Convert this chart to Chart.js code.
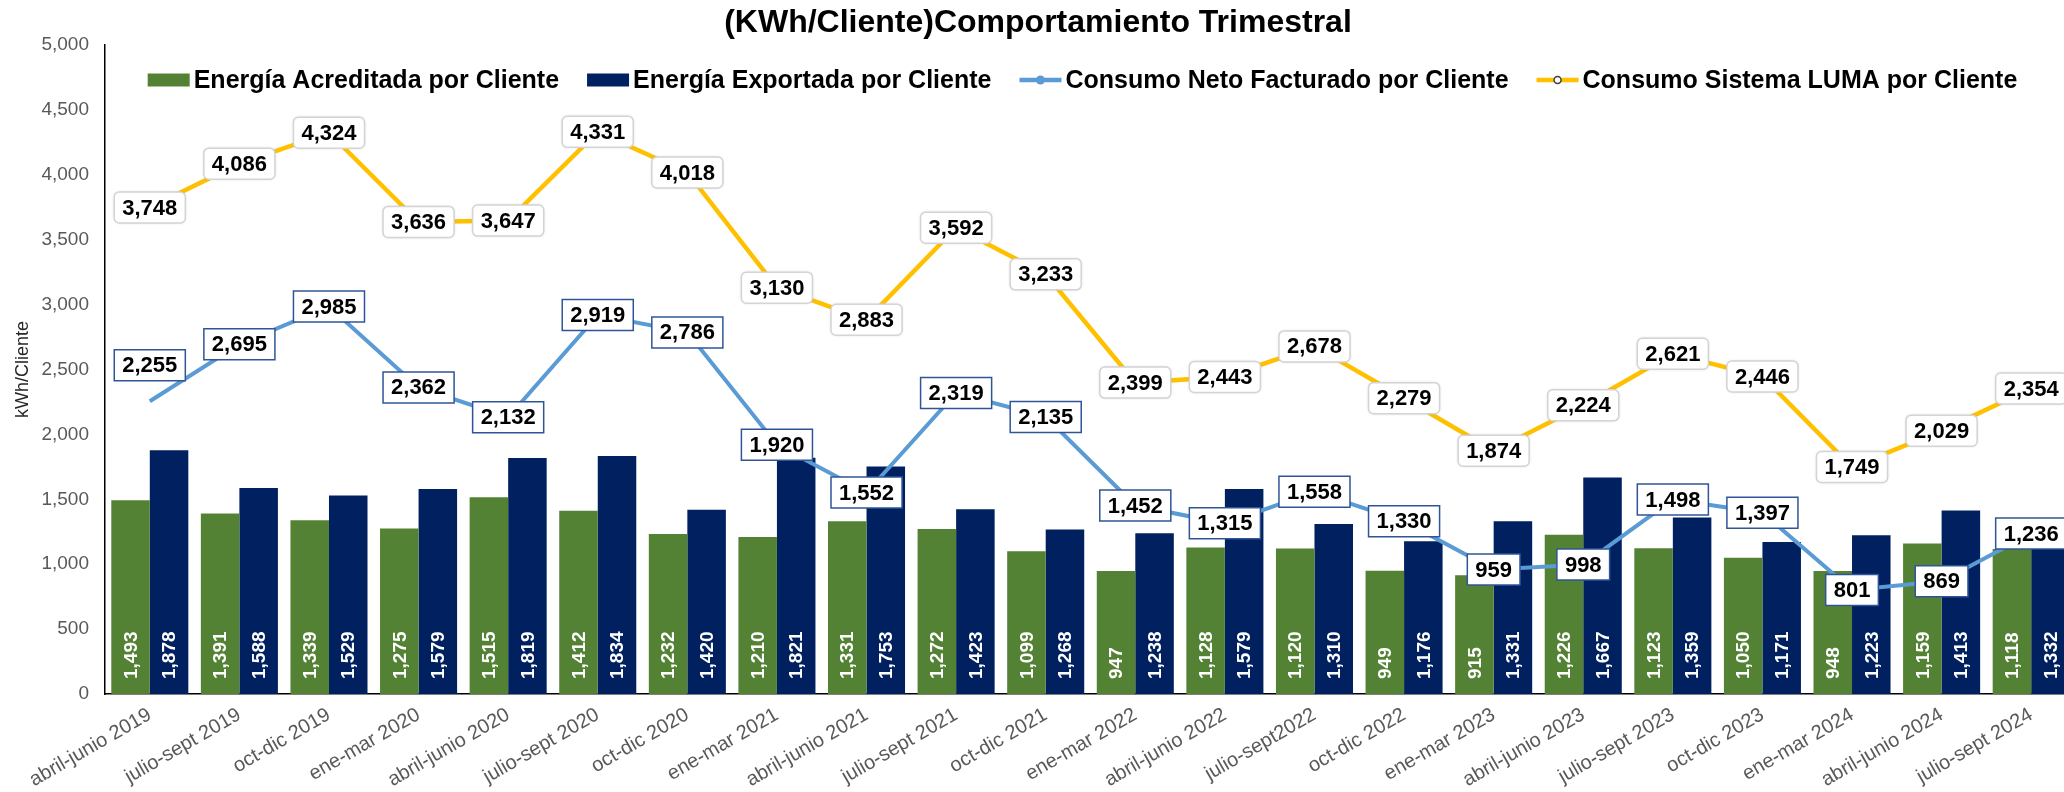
<!DOCTYPE html>
<html lang="es">
<head>
<meta charset="utf-8">
<title>(KWh/Cliente)Comportamiento Trimestral</title>
<script src="https://cdn.jsdelivr.net/npm/chart.js@4.4.1/dist/chart.umd.min.js"></script>
<style>
    html, body { margin: 0; padding: 0; background: #ffffff; overflow: hidden; }
    #wrap { width: 2076px; height: 792px; }
</style>
</head>
<body>
<div id="wrap"><canvas id="trimestralChart" width="2076" height="792"></canvas></div>
<script>
// Trimestres (eje X)
const trimestres = [
    'abril-junio 2019', 'julio-sept 2019', 'oct-dic 2019', 'ene-mar 2020',
    'abril-junio 2020', 'julio-sept 2020', 'oct-dic 2020', 'ene-mar 2021',
    'abril-junio 2021', 'julio-sept 2021', 'oct-dic 2021', 'ene-mar 2022',
    'abril-junio 2022', 'julio-sept2022', 'oct-dic 2022', 'ene-mar 2023',
    'abril-junio 2023', 'julio-sept 2023', 'oct-dic 2023', 'ene-mar 2024',
    'abril-junio 2024', 'julio-sept 2024'
];

// Series (kWh por cliente)
const energiaAcreditada = [1493, 1391, 1339, 1275, 1515, 1412, 1232, 1210, 1331, 1272, 1099,
                           947, 1128, 1120, 949, 915, 1226, 1123, 1050, 948, 1159, 1118];
const energiaExportada = [1878, 1588, 1529, 1579, 1819, 1834, 1420, 1821, 1753, 1423, 1268,
                          1238, 1579, 1310, 1176, 1331, 1667, 1359, 1171, 1223, 1413, 1332];
const consumoNeto = [2255, 2695, 2985, 2362, 2132, 2919, 2786, 1920, 1552, 2319, 2135,
                     1452, 1315, 1558, 1330, 959, 998, 1498, 1397, 801, 869, 1236];
const consumoLuma = [3748, 4086, 4324, 3636, 3647, 4331, 4018, 3130, 2883, 3592, 3233,
                     2399, 2443, 2678, 2279, 1874, 2224, 2621, 2446, 1749, 2029, 2354];

// Eje Y
const yMin = 0;
const yMax = 5000;
const yPaso = 500;

const FAMILIA = "'Liberation Sans', Arial, sans-serif";
const fmt = v => v.toLocaleString('en-US');

// Etiqueta de 2,255 movida hacia arriba como en el original
const desplazarEtiquetaNeto = { 0: -36 };

// Etiquetas de valores (barras y líneas)
const etiquetasPlugin = {
    id: 'etiquetasValores',
    afterDatasetsDraw(chart) {
        const ctx = chart.ctx;
        chart.data.datasets.forEach((ds, i) => {
            const meta = chart.getDatasetMeta(i);
            meta.data.forEach((el, j) => {
                const texto = fmt(ds.data[j]);
                ctx.save();
                if (ds.type === 'bar') {
                    // texto blanco vertical dentro de la base
                    ctx.translate(el.x, el.base - 15);
                    ctx.rotate(-Math.PI / 2);
                    ctx.font = 'bold 19px ' + FAMILIA;
                    ctx.fillStyle = '#ffffff';
                    ctx.textAlign = 'left';
                    ctx.textBaseline = 'middle';
                    ctx.fillText(texto, 0, 1);
                } else {
                    ctx.font = 'bold 22px ' + FAMILIA;
                    const w = ctx.measureText(texto).width + 16;
                    const h = 31;
                    let y = el.y;
                    if (ds.estiloEtiqueta === 'cuadro' && desplazarEtiquetaNeto[j]) {
                        y += desplazarEtiquetaNeto[j];
                    }
                    const x0 = el.x - w / 2;
                    const y0 = y - h / 2;
                    ctx.beginPath();
                    if (ds.estiloEtiqueta === 'cuadro') {
                        ctx.rect(x0, y0, w, h);
                        ctx.fillStyle = '#ffffff';
                        ctx.fill();
                        ctx.lineWidth = 1.5;
                        ctx.strokeStyle = '#2F5597';
                        ctx.stroke();
                    } else {
                        ctx.roundRect(x0, y0, w, h, 5);
                        ctx.shadowColor = 'rgba(0,0,0,0.18)';
                        ctx.shadowBlur = 3;
                        ctx.fillStyle = '#ffffff';
                        ctx.fill();
                        ctx.shadowColor = 'transparent';
                        ctx.lineWidth = 1.5;
                        ctx.strokeStyle = '#D4D4D4';
                        ctx.stroke();
                    }
                    ctx.fillStyle = '#000000';
                    ctx.textAlign = 'center';
                    ctx.textBaseline = 'middle';
                    ctx.fillText(texto, el.x, y + 1);
                }
                ctx.restore();
            });
        });
    }
};

// Leyenda dentro del área del gráfico (como en Excel)
const leyendaPlugin = {
    id: 'leyendaInterna',
    afterDraw(chart) {
        const ctx = chart.ctx;
        const area = chart.chartArea;
        const iconW = 42, gapTexto = 4, gapItem = 28;
        ctx.save();
        ctx.font = 'bold 25px ' + FAMILIA;
        const items = chart.data.datasets.map(ds => ({
            ds: ds,
            ancho: iconW + gapTexto + ctx.measureText(ds.label).width
        }));
        const total = items.reduce((s, it) => s + it.ancho, 0) + gapItem * (items.length - 1);
        let x = (area.left + area.right) / 2 - 8 - total / 2;
        const y = area.top + 35;

        items.forEach(it => {
            const ds = it.ds;
            if (ds.type === 'bar') {
                ctx.fillStyle = ds.backgroundColor;
                ctx.fillRect(x, y - 6.5, iconW, 13);
            } else {
                ctx.strokeStyle = ds.borderColor;
                ctx.lineWidth = 4.5;
                ctx.beginPath();
                ctx.moveTo(x, y);
                ctx.lineTo(x + iconW, y);
                ctx.stroke();
                ctx.beginPath();
                if (ds.estiloEtiqueta === 'cuadro') {
                    ctx.arc(x + iconW / 2, y, 4.5, 0, Math.PI * 2);
                    ctx.fillStyle = ds.borderColor;
                    ctx.fill();
                } else {
                    ctx.arc(x + iconW / 2, y, 3.5, 0, Math.PI * 2);
                    ctx.fillStyle = '#ffffff';
                    ctx.fill();
                    ctx.lineWidth = 1.5;
                    ctx.strokeStyle = '#404040';
                    ctx.stroke();
                }
            }
            ctx.fillStyle = '#000000';
            ctx.textAlign = 'left';
            ctx.textBaseline = 'middle';
            ctx.fillText(ds.label, x + iconW + gapTexto, y + 1);
            x += it.ancho + gapItem;
        });
        ctx.restore();
    }
};

const ctxChart = document.getElementById('trimestralChart');

new Chart(ctxChart, {
    type: 'bar',
    data: {
        labels: trimestres,
        datasets: [
            {
                type: 'bar',
                label: 'Energía Acreditada por Cliente',
                data: energiaAcreditada,
                backgroundColor: '#548235',
                categoryPercentage: 0.86,
                barPercentage: 1.0,
                order: 2
            },
            {
                type: 'bar',
                label: 'Energía Exportada por Cliente',
                data: energiaExportada,
                backgroundColor: '#002060',
                categoryPercentage: 0.86,
                barPercentage: 1.0,
                order: 2
            },
            {
                type: 'line',
                label: 'Consumo Neto Facturado por Cliente',
                data: consumoNeto,
                borderColor: '#5B9BD5',
                borderWidth: 4,
                pointRadius: 0,
                tension: 0,
                fill: false,
                estiloEtiqueta: 'cuadro',
                order: 1
            },
            {
                type: 'line',
                label: 'Consumo Sistema LUMA por Cliente',
                data: consumoLuma,
                borderColor: '#FFC000',
                borderWidth: 4.5,
                pointRadius: 0,
                tension: 0,
                fill: false,
                estiloEtiqueta: 'redondeado',
                order: 1
            }
        ]
    },
    options: {
        responsive: false,
        animation: false,
        layout: { padding: 0 },
        plugins: {
            legend: { display: false },
            tooltip: { enabled: false },
            title: {
                display: true,
                text: '(KWh/Cliente)Comportamiento Trimestral',
                color: '#000000',
                font: { family: FAMILIA, size: 32, weight: 'bold' },
                padding: { top: 4, bottom: 2.6 }
            }
        },
        scales: {
            x: {
                grid: { display: false, drawTicks: false },
                border: { display: true, color: '#000000', width: 1.5 },
                ticks: {
                    color: '#595959',
                    font: { family: FAMILIA, size: 20 },
                    minRotation: 30,
                    maxRotation: 30,
                    autoSkip: false,
                    padding: 9
                },
                afterFit(scale) { scale.height = 98; }
            },
            y: {
                min: yMin,
                max: yMax,
                grid: { display: false, drawTicks: false },
                border: { display: true, color: '#000000', width: 1.5 },
                ticks: {
                    stepSize: yPaso,
                    color: '#595959',
                    font: { family: FAMILIA, size: 19 },
                    padding: 16,
                    callback: function(value) { return fmt(value); }
                },
                title: {
                    display: true,
                    text: 'kWh/Cliente',
                    color: '#262626',
                    font: { family: FAMILIA, size: 18 },
                    padding: { top: 12, bottom: 0 }
                },
                afterFit(scale) { scale.width = 105; }
            }
        }
    },
    plugins: [etiquetasPlugin, leyendaPlugin]
});
</script>
</body>
</html>
